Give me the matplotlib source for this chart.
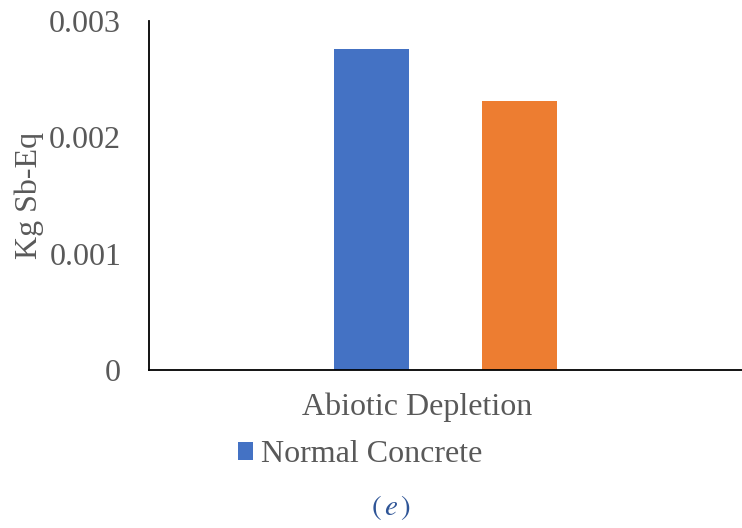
import matplotlib.pyplot as plt
from matplotlib.transforms import ScaledTranslation

categories = ['Abiotic Depletion']
series_names = ['Normal Concrete', 'Green Concrete']
normal_values = [0.00276]
green_values = [0.00231]
y_ticks = [0, 0.001, 0.002, 0.003]
y_tick_labels = ['0', '0.001', '0.002', '0.003']

plt.rcParams['font.family'] = ['Liberation Serif', 'DejaVu Serif']
plt.rcParams['mathtext.fontset'] = 'stix'
grey = '#595959'

fig = plt.figure(figsize=(7.42, 5.28), dpi=100)
ax = fig.add_axes([149 / 742, 1 - 370 / 528, 593 / 742, 349 / 528])

x = list(range(len(categories)))
w = 0.127
b1 = ax.bar([i - 0.125 for i in x], normal_values, width=w, color='#4472C4')
b2 = ax.bar([i + 0.125 for i in x], green_values, width=w, color='#ED7D31')

ax.set_xlim(-0.5, 0.5)
ax.set_ylim(0, 0.003)
ax.set_yticks(y_ticks)
ax.set_yticklabels(y_tick_labels)
ax.set_xticks(x)
ax.set_xticklabels(categories)
ax.tick_params(axis='both', length=0, labelsize=23, colors=grey)
ax.tick_params(axis='y', pad=20)
ax.tick_params(axis='x', pad=16)
# category label sits a little left of the axis centre
for lbl in ax.get_xticklabels():
    lbl.set_transform(lbl.get_transform() + ScaledTranslation(-0.28, 0, fig.dpi_scale_trans))
ax.set_ylabel('Kg Sb-Eq', fontsize=23, color=grey, labelpad=4)

for s in ['top', 'right']:
    ax.spines[s].set_visible(False)
for s in ['left', 'bottom']:
    ax.spines[s].set_color('black')
    ax.spines[s].set_linewidth(1.3)

# only the first series fits in the legend row
fig.legend([b1], series_names[:1], loc='center left', bbox_to_anchor=(222 / 742, 1 - 455 / 528),
           frameon=False, fontsize=23, handlelength=0.47, handleheight=0.47,
           handletextpad=0.25, labelcolor=grey, borderpad=0)

fig.text(391 / 742, 1 - 508 / 528, r'$(\,e\,)$', ha='center', va='center', fontsize=21,
         color='#2F5597')

fig.savefig('out.png', dpi=100)
